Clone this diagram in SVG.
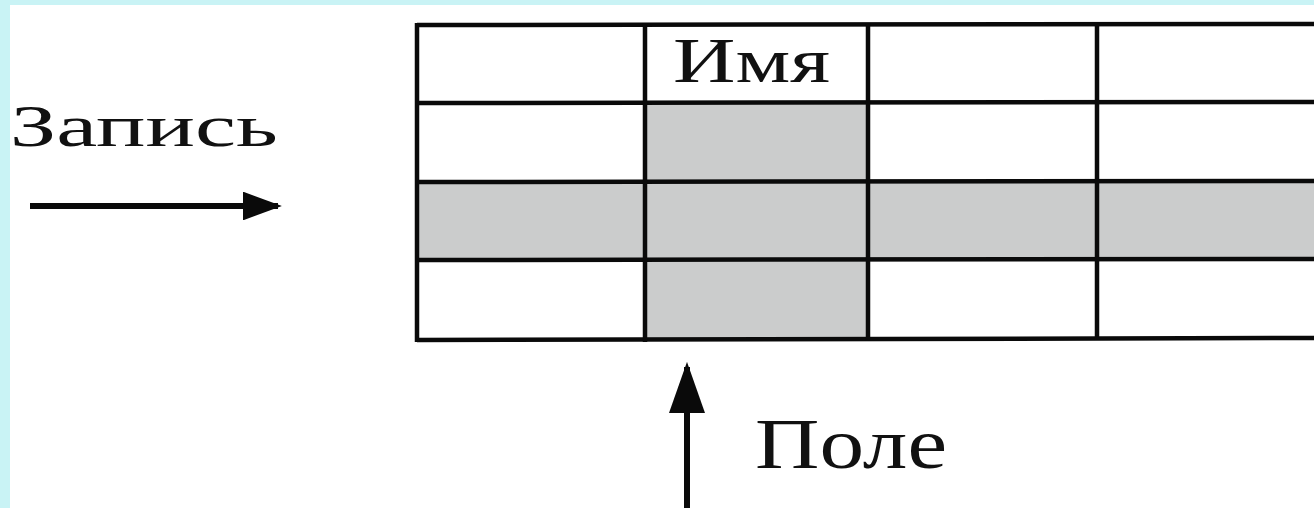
<svg xmlns="http://www.w3.org/2000/svg" width="1314" height="508" viewBox="0 0 1314 508">
<style>
.grid{stroke:#0a0a0a;stroke-width:4.5;fill:none}
.shade{fill:#cbcccc}
.lbl{font-family:"Liberation Serif","Times New Roman",serif;fill:#111}
.arrow{stroke:#0a0a0a;stroke-width:6;fill:none}
</style>
<defs>
<marker id="ahR" viewBox="0 0 10 10" refX="9" refY="5" markerWidth="6.5" markerHeight="4.8" markerUnits="strokeWidth" orient="auto" preserveAspectRatio="none">
<path d="M0,0 L10,5 L0,10 Z" fill="#0a0a0a"/>
</marker>
<marker id="ahU" viewBox="0 0 10 10" refX="9" refY="5" markerWidth="8.5" markerHeight="6" markerUnits="strokeWidth" orient="auto" preserveAspectRatio="none">
<path d="M0,0 L10,5 L0,10 Z" fill="#0a0a0a"/>
</marker>
</defs>
<rect x="0" y="0" width="1314" height="508" fill="#c9f3f5"/>
<rect x="10" y="5" width="1304" height="503" fill="#ffffff"/>
<g id="table">
<rect class="shade" x="417" y="182" width="900" height="78"/>
<rect class="shade" x="645" y="103" width="223" height="237"/>
<line class="grid" x1="417" y1="25" x2="1320" y2="24"/>
<line class="grid" x1="417" y1="103" x2="1320" y2="102"/>
<line class="grid" x1="417" y1="182" x2="1320" y2="181"/>
<line class="grid" x1="417" y1="260" x2="1320" y2="259"/>
<line class="grid" x1="417" y1="340" x2="1320" y2="338"/>
<line class="grid" x1="417" y1="23" x2="417" y2="342"/>
<line class="grid" x1="645" y1="23" x2="645" y2="342"/>
<line class="grid" x1="868" y1="23" x2="868" y2="341"/>
<line class="grid" x1="1097" y1="23" x2="1097" y2="340"/>
</g>
<g id="header-name">
<text class="lbl" x="673" y="82" font-size="64" textLength="157" lengthAdjust="spacingAndGlyphs">Имя</text>
</g>
<g id="label-record">
<text class="lbl" x="10" y="146" font-size="60" textLength="268" lengthAdjust="spacingAndGlyphs">Запись</text>
</g>
<g id="label-field">
<text class="lbl" x="755" y="468" font-size="72" textLength="192" lengthAdjust="spacingAndGlyphs">Поле</text>
</g>
<g id="connectors">
<line class="arrow" x1="30" y1="206" x2="278" y2="206" marker-end="url(#ahR)"/>
<line class="arrow" x1="687" y1="508" x2="687" y2="367" marker-end="url(#ahU)"/>
</g>
</svg>
